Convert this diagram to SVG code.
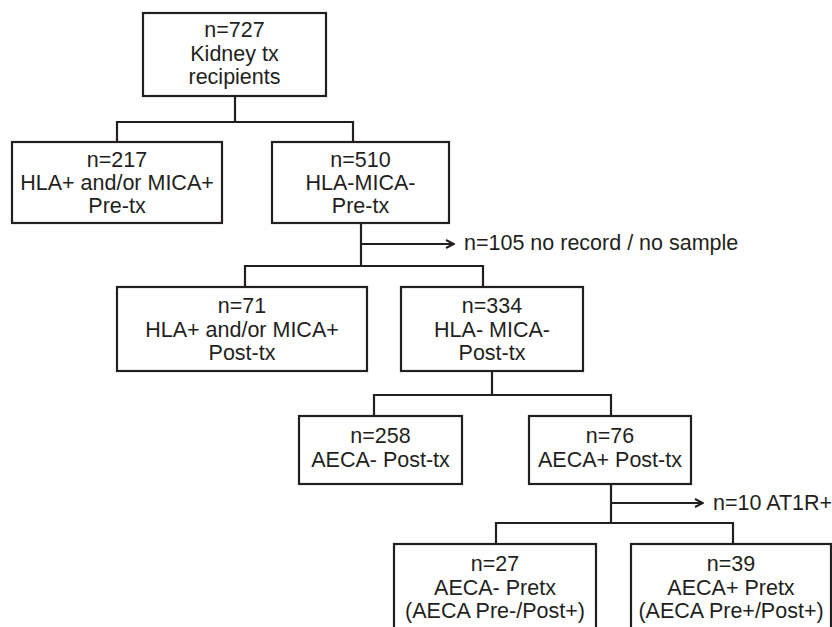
<svg xmlns="http://www.w3.org/2000/svg" width="832" height="627" viewBox="0 0 832 627">
<defs>
<style>
.box{fill:#fff;stroke:#231f20;stroke-width:2.2}
.ln{fill:none;stroke:#231f20;stroke-width:2.2}
text{font-family:"Liberation Sans",Arial,sans-serif;font-size:21.5px;fill:#231f20}
.c{text-anchor:middle}
</style>
<marker id="arr" viewBox="0 0 10 10" refX="9" refY="5" markerWidth="10" markerHeight="10" markerUnits="userSpaceOnUse" orient="auto">
<path d="M1,1 L9,5 L1,9" fill="none" stroke="#231f20" stroke-width="2"/>
</marker>
</defs>
<rect width="832" height="627" fill="#fff"/>
<g id="connectors">
<path class="ln" d="M235,96 V122 M117,122 H353 M117,121 V142 M353,121 V142"/>
<path class="ln" d="M361,223 V266 M245,266 H483 M245,265 V287 M483,265 V287"/>
<path class="ln" d="M361,244 H454" marker-end="url(#arr)"/>
<path class="ln" d="M492,371 V395 M374,395 H611 M374,394 V416 M611,394 V416"/>
<path class="ln" d="M611,484 V523 M496,523 H733 M496,522 V544 M733,522 V544"/>
<path class="ln" d="M611,503 H703" marker-end="url(#arr)"/>
</g>
<g id="n727">
<rect class="box" x="143" y="13" width="183" height="83"/>
<text class="c" x="234.5" y="37">n=727</text>
<text class="c" x="234.5" y="61">Kidney tx</text>
<text class="c" x="234.5" y="84">recipients</text>
</g>
<g id="n217">
<rect class="box" x="12" y="142" width="210" height="81"/>
<text class="c" x="117" y="167">n=217</text>
<text class="c" x="117" y="190">HLA+ and/or MICA+</text>
<text class="c" x="117" y="213">Pre-tx</text>
</g>
<g id="n510">
<rect class="box" x="272" y="142" width="177" height="81"/>
<text class="c" x="360.5" y="167">n=510</text>
<text class="c" x="360.5" y="190">HLA-MICA-</text>
<text class="c" x="360.5" y="213">Pre-tx</text>
</g>
<g id="n105">
<text x="464" y="250">n=105 no record / no sample</text>
</g>
<g id="n71">
<rect class="box" x="117" y="287" width="250" height="84"/>
<text class="c" x="242" y="313">n=71</text>
<text class="c" x="242" y="337">HLA+ and/or MICA+</text>
<text class="c" x="242" y="360">Post-tx</text>
</g>
<g id="n334">
<rect class="box" x="401" y="287" width="182" height="84"/>
<text class="c" x="492" y="313">n=334</text>
<text class="c" x="492" y="337">HLA- MICA-</text>
<text class="c" x="492" y="360">Post-tx</text>
</g>
<g id="n258">
<rect class="box" x="299" y="416" width="163" height="68"/>
<text class="c" x="380.5" y="443">n=258</text>
<text class="c" x="380.5" y="467">AECA- Post-tx</text>
</g>
<g id="n76">
<rect class="box" x="529" y="416" width="162" height="68"/>
<text class="c" x="610" y="443">n=76</text>
<text class="c" x="610" y="467">AECA+ Post-tx</text>
</g>
<g id="n10">
<text x="713" y="510">n=10 AT1R+</text>
</g>
<g id="n27">
<rect class="box" x="394" y="544" width="202" height="100"/>
<text class="c" x="495" y="571">n=27</text>
<text class="c" x="495" y="594.5">AECA- Pretx</text>
<text class="c" x="495" y="618">(AECA Pre-/Post+)</text>
</g>
<g id="n39">
<rect class="box" x="631" y="544" width="200" height="100"/>
<text class="c" x="731" y="571">n=39</text>
<text class="c" x="731" y="594.5">AECA+ Pretx</text>
<text class="c" x="731" y="618">(AECA Pre+/Post+)</text>
</g>
</svg>
